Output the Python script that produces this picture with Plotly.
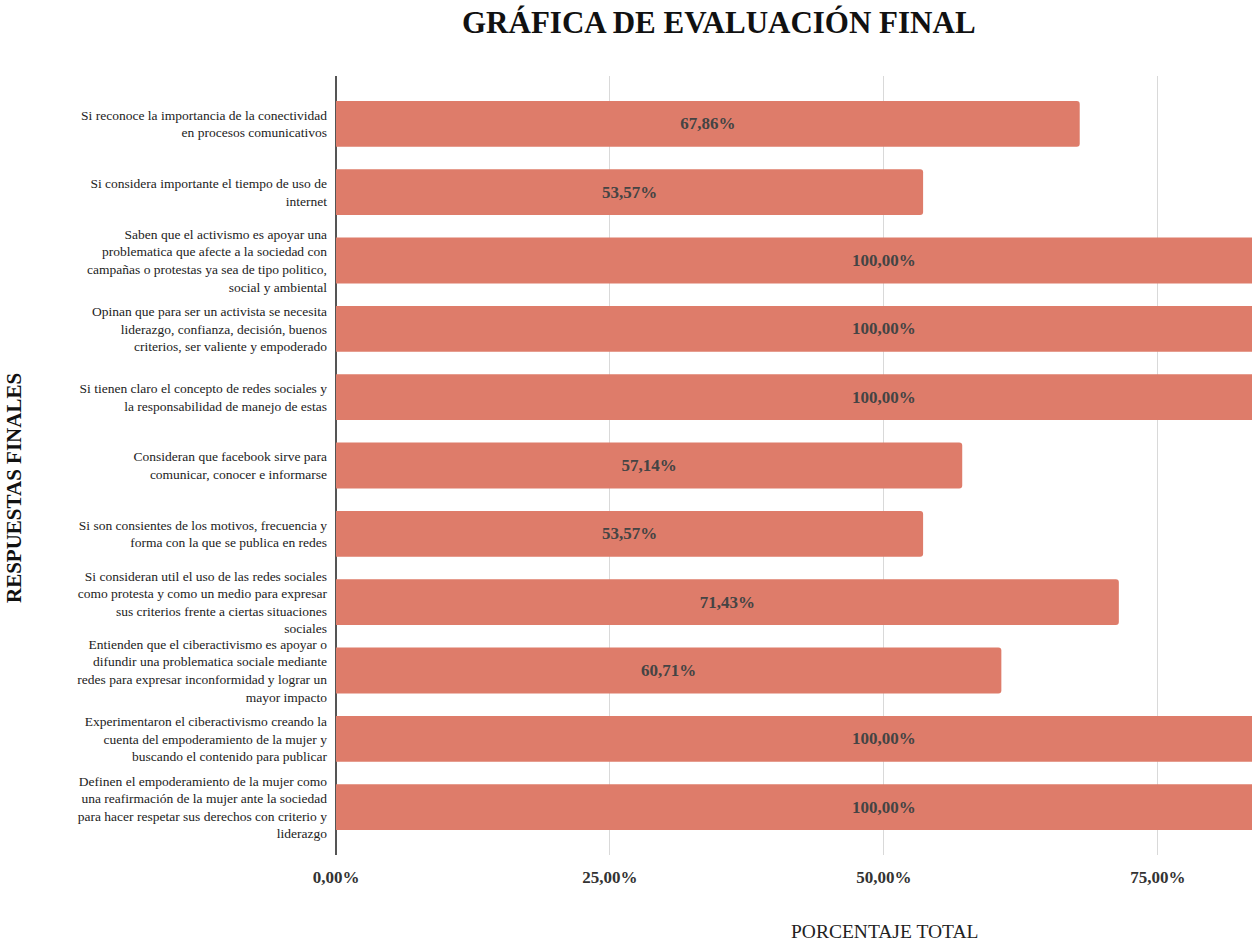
import plotly.graph_objects as go

categories = [
    "Si reconoce la importancia de la conectividad<br>en procesos comunicativos",
    "Si considera importante el tiempo de uso de<br>internet",
    "Saben que el activismo es apoyar una<br>problematica que afecte a la sociedad con<br>campañas o protestas ya sea de tipo politico,<br>social y ambiental",
    "Opinan que para ser un activista se necesita<br>liderazgo, confianza, decisión, buenos<br>criterios, ser valiente y empoderado",
    "Si tienen claro el concepto de redes sociales y<br>la responsabilidad de manejo de estas",
    "Consideran que facebook sirve para<br>comunicar, conocer e informarse",
    "Si son consientes de los motivos, frecuencia y<br>forma con la que se publica en redes",
    "Si consideran util el uso de las redes sociales<br>como protesta y como un medio para expresar<br>sus criterios frente a ciertas situaciones<br>sociales",
    "Entienden que el ciberactivismo es apoyar o<br>difundir una problematica sociale mediante<br>redes para expresar inconformidad y lograr un<br>mayor impacto",
    "Experimentaron el ciberactivismo creando la<br>cuenta del empoderamiento de la mujer y<br>buscando el contenido para publicar",
    "Definen el empoderamiento de la mujer como<br>una reafirmación de la mujer ante la sociedad<br>para hacer respetar sus derechos con criterio y<br>liderazgo",
]
values = [67.86, 53.57, 100.00, 100.00, 100.00, 57.14, 53.57, 71.43, 60.71, 100.00, 100.00]
tick_values = [0, 25, 50, 75]
tick_labels = ["0,00%", "25,00%", "50,00%", "75,00%"]

labels = [f"{v:.2f}".replace(".", ",") + "%" for v in values]
FONT = "Liberation Serif"

fig = go.Figure()
fig.add_trace(go.Bar(
    y=categories, x=values, orientation="h",
    marker=dict(color="#DE7C6A", line=dict(width=0), cornerradius=3),
    text=labels, textposition="inside", insidetextanchor="middle",
    textfont=dict(family=FONT, size=17, color="#444444", weight="bold"),
    cliponaxis=True, showlegend=False,
))

fig.update_layout(
    width=1252, height=945,
    margin=dict(l=336, r=0, t=76, b=90),
    paper_bgcolor="white", plot_bgcolor="white",
    bargap=0.33,
    font=dict(family=FONT, color="#222222"),
    xaxis=dict(
        range=[0, 83.58], tickvals=tick_values, ticktext=tick_labels,
        showgrid=True, gridcolor="#D9D9D9", gridwidth=1,
        zeroline=True, zerolinecolor="#555555", zerolinewidth=2,
        showline=False, ticks="",
        tickfont=dict(family=FONT, size=17, color="#333333", weight="bold"),
        ticklabelstandoff=10,
    ),
    yaxis=dict(
        range=[10.7, -0.7], type="category",
        showgrid=False, showline=False, zeroline=False, ticks="",
        tickfont=dict(family=FONT, size=13.5, color="#222222"),
        ticklabelstandoff=8,
    ),
)

fig.add_annotation(
    text="<b>GRÁFICA DE EVALUACIÓN FINAL</b>", xref="paper", yref="paper",
    x=(719 - 336) / 916, y=1 + (76 - 22) / 779, xanchor="center", yanchor="middle",
    showarrow=False, font=dict(family=FONT, size=31, color="#111111"),
)
fig.add_annotation(
    text="PORCENTAJE TOTAL", xref="paper", yref="paper",
    x=(884 - 336) / 916, y=-(931 - 855) / 779, xanchor="center", yanchor="middle",
    showarrow=False, font=dict(family=FONT, size=19.5, color="#222222"),
)
fig.add_annotation(
    text="<b>RESPUESTAS FINALES</b>", xref="paper", yref="paper",
    x=-(336 - 14) / 916, y=(855 - 488) / 779, xanchor="center", yanchor="middle",
    textangle=-90, showarrow=False, font=dict(family=FONT, size=21, color="#111111"),
)

fig.write_html("out.html", config={"displayModeBar": False},
               post_script="document.body.style.margin='0';")
